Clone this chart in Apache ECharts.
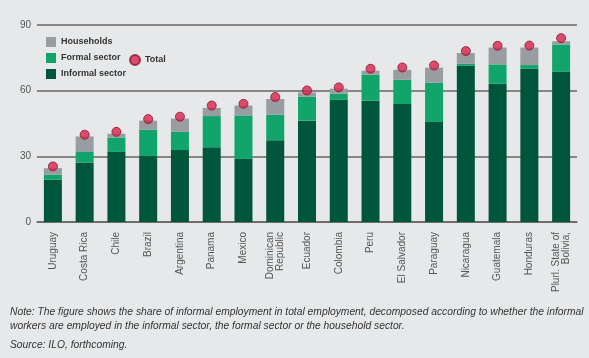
<!DOCTYPE html>
<html><head><meta charset="utf-8">
<script src="https://cdn.jsdelivr.net/npm/echarts@6/dist/echarts.min.js"></script>
<style>html,body{margin:0;padding:0;background:#e6e8ea;}#c{width:589px;height:358px;}</style>
</head><body><div id="c"></div>
<script>
var categories = ['Uruguay','Costa Rica','Chile','Brazil','Argentina','Panama','Mexico','Dominican\nRepublic','Ecuador','Colombia','Peru','El Salvador','Paraguay','Nicaragua','Guatemala','Honduras','Plurl. State of\nBolivia,'];
var informalSector = [19.3, 27.2, 32.0, 30.1, 32.9, 34.1, 28.8, 37.3, 46.3, 55.8, 55.4, 53.9, 45.7, 71.5, 63.1, 70.0, 68.6];
var formalSector   = [2.3, 4.8, 6.6, 12.0, 8.3, 14.3, 19.9, 11.7, 11.0, 2.8, 11.9, 11.1, 17.9, 0.8, 8.9, 1.7, 12.5];
var households     = [3.0, 7.1, 1.7, 4.2, 6.0, 3.7, 4.5, 7.2, 1.9, 2.3, 1.8, 4.5, 6.9, 4.9, 7.7, 8.0, 1.5];
var total          = [25.4, 39.9, 41.2, 47.0, 48.1, 53.2, 54.0, 57.1, 60.1, 61.5, 70.0, 70.6, 71.5, 78.1, 80.5, 80.6, 84.0];
var yTicks = [0, 30, 60, 90];

var chart = echarts.init(document.getElementById('c'), null, {renderer:'canvas'});
chart.setOption({
  backgroundColor: '#e6e8ea',
  animation: false,
  textStyle: {fontFamily: 'Liberation Sans, Arial, sans-serif'},
  grid: {left: 37, right: 12, top: 25, bottom: 136},
  legend: [{
    data: ['Households','Formal sector','Informal sector'],
    orient: 'vertical', left: 41, top: 32,
    itemWidth: 10, itemHeight: 10, itemGap: 6,
    icon: 'rect',
    textStyle: {fontSize: 9, fontWeight: 'bold', color: '#333'}
  },{
    data: ['Total'],
    left: 124, top: 49,
    itemWidth: 10, itemHeight: 10,
    textStyle: {fontSize: 9, fontWeight: 'bold', color: '#333'}
  }],
  xAxis: {
    type: 'category', data: categories,
    axisLine: {show: true, lineStyle: {color: '#666', width: 1.5}},
    axisTick: {show: false},
    axisLabel: {rotate: 90, fontSize: 10, color: '#555', margin: 10, lineHeight: 10, interval: 0}
  },
  yAxis: {
    type: 'value', min: 0, max: 90, interval: 30,
    axisLine: {show: false}, axisTick: {show: false},
    axisLabel: {fontSize: 10, color: '#555', margin: 6, formatter: function(v){ return yTicks.indexOf(v) >= 0 ? String(v) : ''; }},
    splitLine: {lineStyle: {color: '#666', width: 1.5}}
  },
  series: [
    {name: 'Informal sector', type: 'bar', stack: 's', data: informalSector, barWidth: 18, itemStyle: {color: '#00563a'}},
    {name: 'Formal sector', type: 'bar', stack: 's', data: formalSector, barWidth: 18, itemStyle: {color: '#12a56b'}},
    {name: 'Households', type: 'bar', stack: 's', data: households, barWidth: 18, itemStyle: {color: '#979da1'}},
    {name: 'Total', type: 'scatter', data: total, symbol: 'circle', symbolSize: 9, z: 5,
     itemStyle: {color: '#d9234b', borderColor: '#8c1532', borderWidth: 1}}
  ],
  graphic: [
    {type: 'text', left: 10, top: 307, style: {text: 'Note: The figure shows the share of informal employment in total employment, decomposed according to whether the informal', fontSize: 10.3, fontStyle: 'italic', fill: '#333', fontFamily: 'Liberation Sans, sans-serif'}},
    {type: 'text', left: 10, top: 321, style: {text: 'workers are employed in the informal sector, the formal sector or the household sector.', fontSize: 10.3, fontStyle: 'italic', fill: '#333', fontFamily: 'Liberation Sans, sans-serif'}},
    {type: 'text', left: 10, top: 340, style: {text: 'Source: ILO, forthcoming.', fontSize: 10.3, fontStyle: 'italic', fill: '#333', fontFamily: 'Liberation Sans, sans-serif'}}
  ]
});
</script></body></html>
